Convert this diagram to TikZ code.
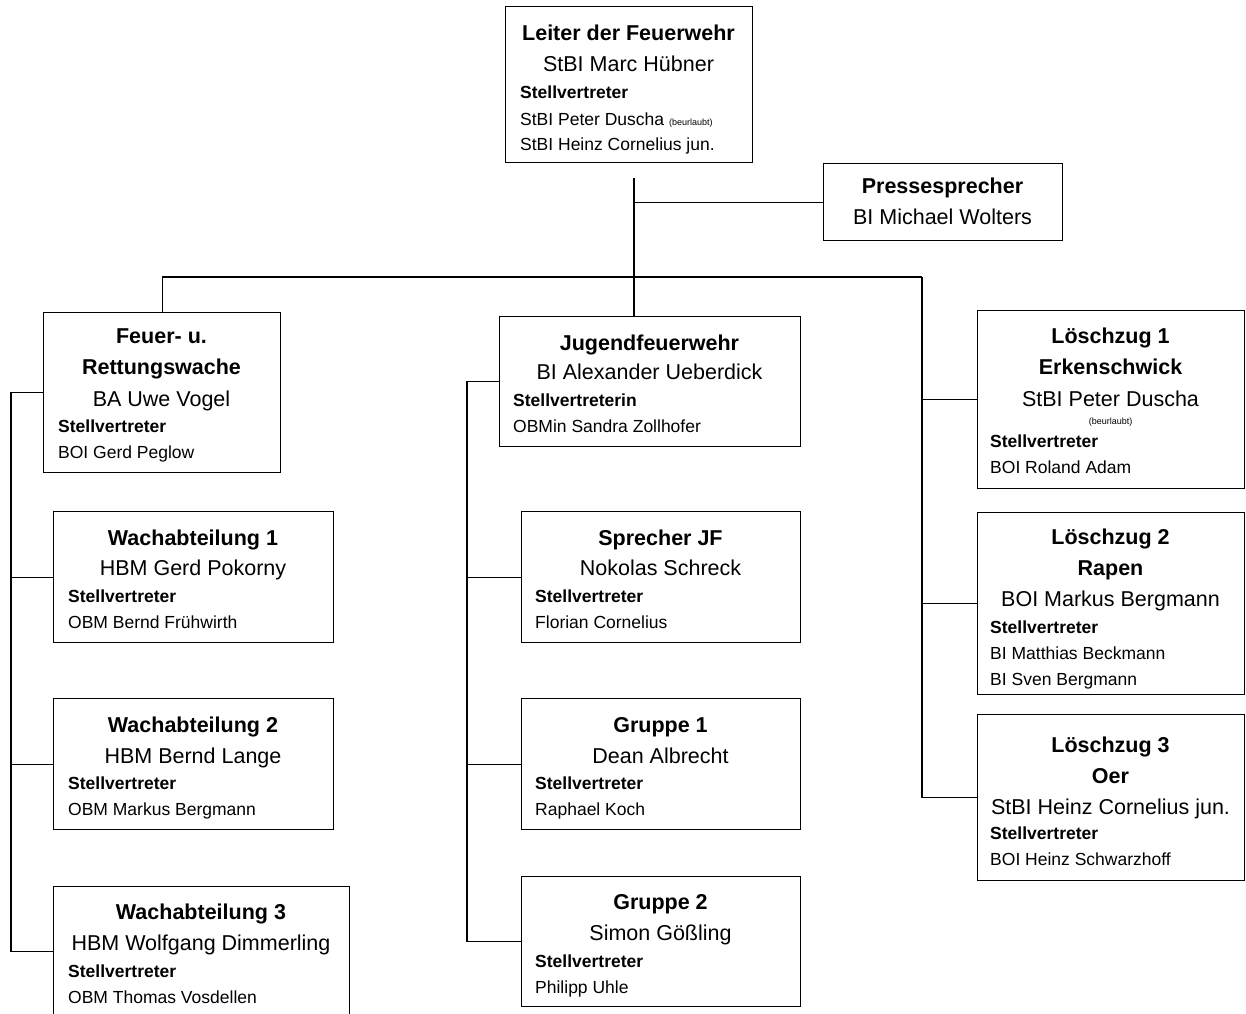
\documentclass[tikz,border=0pt]{standalone}
\usepackage{fontspec}
\setmainfont{Liberation Sans}
\begin{document}
\begin{tikzpicture}[x=1pt,y=-1pt,
 box/.style={draw, line width=1.1pt, inner sep=0pt, anchor=north west},
 conn/.style={line width=1.1pt},
 ttl/.style={font=\bfseries\fontsize{21.5}{24}\selectfont, inner sep=0pt, text height=15.5pt, text depth=0pt},
 nm/.style={font=\fontsize{21.5}{24}\selectfont, inner sep=0pt, text height=15.5pt, text depth=0pt},
 sv/.style={font=\bfseries\fontsize{17.5}{20}\selectfont, inner sep=0pt, text height=12.6pt, text depth=0pt, anchor=west},
 dp/.style={font=\fontsize{17.5}{20}\selectfont, inner sep=0pt, text height=12.6pt, text depth=0pt, anchor=west},
 tny/.style={font=\fontsize{9}{10}\selectfont, inner sep=0pt, text height=6.5pt, text depth=0pt}]
\useasboundingbox (0,0) rectangle (1246,1013);
\clip (0,0) rectangle (1246,1013);
\fill[white] (0,0) rectangle (1246,1013);

% boxes
\node[box, minimum width=247pt, minimum height=156pt] (lf) at (505,6) {};
\node[box, minimum width=239pt, minimum height=77pt] (pr) at (823,163) {};
\node[box, minimum width=237pt, minimum height=160pt] (fw) at (43,312) {};
\node[box, minimum width=301pt, minimum height=130pt] (jf) at (499,316) {};
\node[box, minimum width=280pt, minimum height=131pt] (w1) at (53,511) {};
\node[box, minimum width=280pt, minimum height=131pt] (w2) at (53,698) {};
\node[box, minimum width=296pt, minimum height=130pt] (w3) at (53,886) {};
\node[box, minimum width=279pt, minimum height=131pt] (sj) at (521,511) {};
\node[box, minimum width=279pt, minimum height=131pt] (g1) at (521,698) {};
\node[box, minimum width=279pt, minimum height=130pt] (g2) at (521,876) {};
\node[box, minimum width=267pt, minimum height=178pt] (l1) at (977,310) {};
\node[box, minimum width=267pt, minimum height=182pt] (l2) at (977,512) {};
\node[box, minimum width=267pt, minimum height=166pt] (l3) at (977,714) {};

% connectors
\coordinate (top) at (634,178);
\coordinate (busL) at (160,277);
\coordinate (busR) at (922,277);
\coordinate (fx) at (11,0);
\coordinate (jx) at (467,0);
\draw[conn] (top) -- (top |- jf.north);
\draw[conn] (top |- pr.west) -- (pr.west);
\draw[conn] (fw.north |- busL) -- (busR);
\draw[conn] (fw.north |- busL) -- (fw.north);
\draw[conn] (busR) |- (l3.west);
\draw[conn] (busR |- l1.west) -- (l1.west);
\draw[conn] (busR |- l2.west) -- (l2.west);
\draw[conn] (fw.west) -- (fw.west -| fx) |- (w3.west);
\draw[conn] (w1.west -| fx) -- (w1.west);
\draw[conn] (w2.west -| fx) -- (w2.west);
\draw[conn] (jf.west) -- (jf.west -| jx) |- (g2.west);
\draw[conn] (sj.west -| jx) -- (sj.west);
\draw[conn] (g1.west -| jx) -- (g1.west);

% Leiter
\node[ttl] (lf1) at (628.5,33) {Leiter der Feuerwehr};
\node[nm] (lf2) at (628.5,64) {StBI Marc Hübner};
\node[sv] (lf3) at (520,92) {Stellvertreter};
\node[dp] (lf4) at (520,119) {StBI Peter Duscha {\fontsize{9}{10}\selectfont(beurlaubt)}};
\node[dp] (lf5) at (520,144) {StBI Heinz Cornelius jun.};
% Presse
\node[ttl] (pr1) at (942.5,186) {Pressesprecher};
\node[nm] (pr2) at (942.5,217) {BI Michael Wolters};
% Feuer
\node[ttl] (fw1) at (161.5,336) {Feuer- u.};
\node[ttl] (fw2) at (161.5,367) {Rettungswache};
\node[nm] (fw3) at (161.5,399) {BA Uwe Vogel};
\node[sv] (fw4) at (58,426) {Stellvertreter};
\node[dp] (fw5) at (58,452) {BOI Gerd Peglow};
% Jugend
\node[ttl] (jf1) at (649.5,343) {Jugendfeuerwehr};
\node[nm] (jf2) at (649.5,372) {BI Alexander Ueberdick};
\node[sv] (jf3) at (513,400) {Stellvertreterin};
\node[dp] (jf4) at (513,426) {OBMin Sandra Zollhofer};
% Wach 1
\node[ttl] (w1a) at (193,538) {Wachabteilung 1};
\node[nm] (w1b) at (193,568) {HBM Gerd Pokorny};
\node[sv] (w1c) at (68,596) {Stellvertreter};
\node[dp] (w1d) at (68,622) {OBM Bernd Frühwirth};
% Wach 2
\node[ttl] (w2a) at (193,725) {Wachabteilung 2};
\node[nm] (w2b) at (193,756) {HBM Bernd Lange};
\node[sv] (w2c) at (68,783) {Stellvertreter};
\node[dp] (w2d) at (68,809) {OBM Markus Bergmann};
% Wach 3
\node[ttl] (w3a) at (201,912) {Wachabteilung 3};
\node[nm] (w3b) at (201,943) {HBM Wolfgang Dimmerling};
\node[sv] (w3c) at (68,971) {Stellvertreter};
\node[dp] (w3d) at (68,997) {OBM Thomas Vosdellen};
% Sprecher
\node[ttl] (sja) at (660.5,538) {Sprecher JF};
\node[nm] (sjb) at (660.5,568) {Nokolas Schreck};
\node[sv] (sjc) at (535,596) {Stellvertreter};
\node[dp] (sjd) at (535,622) {Florian Cornelius};
% Gruppe 1
\node[ttl] (g1a) at (660.5,725) {Gruppe 1};
\node[nm] (g1b) at (660.5,756) {Dean Albrecht};
\node[sv] (g1c) at (535,783) {Stellvertreter};
\node[dp] (g1d) at (535,809) {Raphael Koch};
% Gruppe 2
\node[ttl] (g2a) at (660.5,902) {Gruppe 2};
\node[nm] (g2b) at (660.5,933) {Simon Gößling};
\node[sv] (g2c) at (535,961) {Stellvertreter};
\node[dp] (g2d) at (535,987) {Philipp Uhle};
% Loeschzug 1
\node[ttl] (l1a) at (1110.5,336) {Löschzug 1};
\node[ttl] (l1b) at (1110.5,367) {Erkenschwick};
\node[nm] (l1c) at (1110.5,399) {StBI Peter Duscha};
\node[tny] (l1d) at (1110.5,421) {(beurlaubt)};
\node[sv] (l1e) at (990,441) {Stellvertreter};
\node[dp] (l1f) at (990,467) {BOI Roland Adam};
% Loeschzug 2
\node[ttl] (l2a) at (1110.5,537) {Löschzug 2};
\node[ttl] (l2b) at (1110.5,568) {Rapen};
\node[nm] (l2c) at (1110.5,599) {BOI Markus Bergmann};
\node[sv] (l2d) at (990,627) {Stellvertreter};
\node[dp] (l2e) at (990,653) {BI Matthias Beckmann};
\node[dp] (l2f) at (990,679) {BI Sven Bergmann};
% Loeschzug 3
\node[ttl] (l3a) at (1110.5,745) {Löschzug 3};
\node[ttl] (l3b) at (1110.5,776) {Oer};
\node[nm] (l3c) at (1110.5,807) {StBI Heinz Cornelius jun.};
\node[sv] (l3d) at (990,833) {Stellvertreter};
\node[dp] (l3e) at (990,859) {BOI Heinz Schwarzhoff};
\end{tikzpicture}
\end{document}
